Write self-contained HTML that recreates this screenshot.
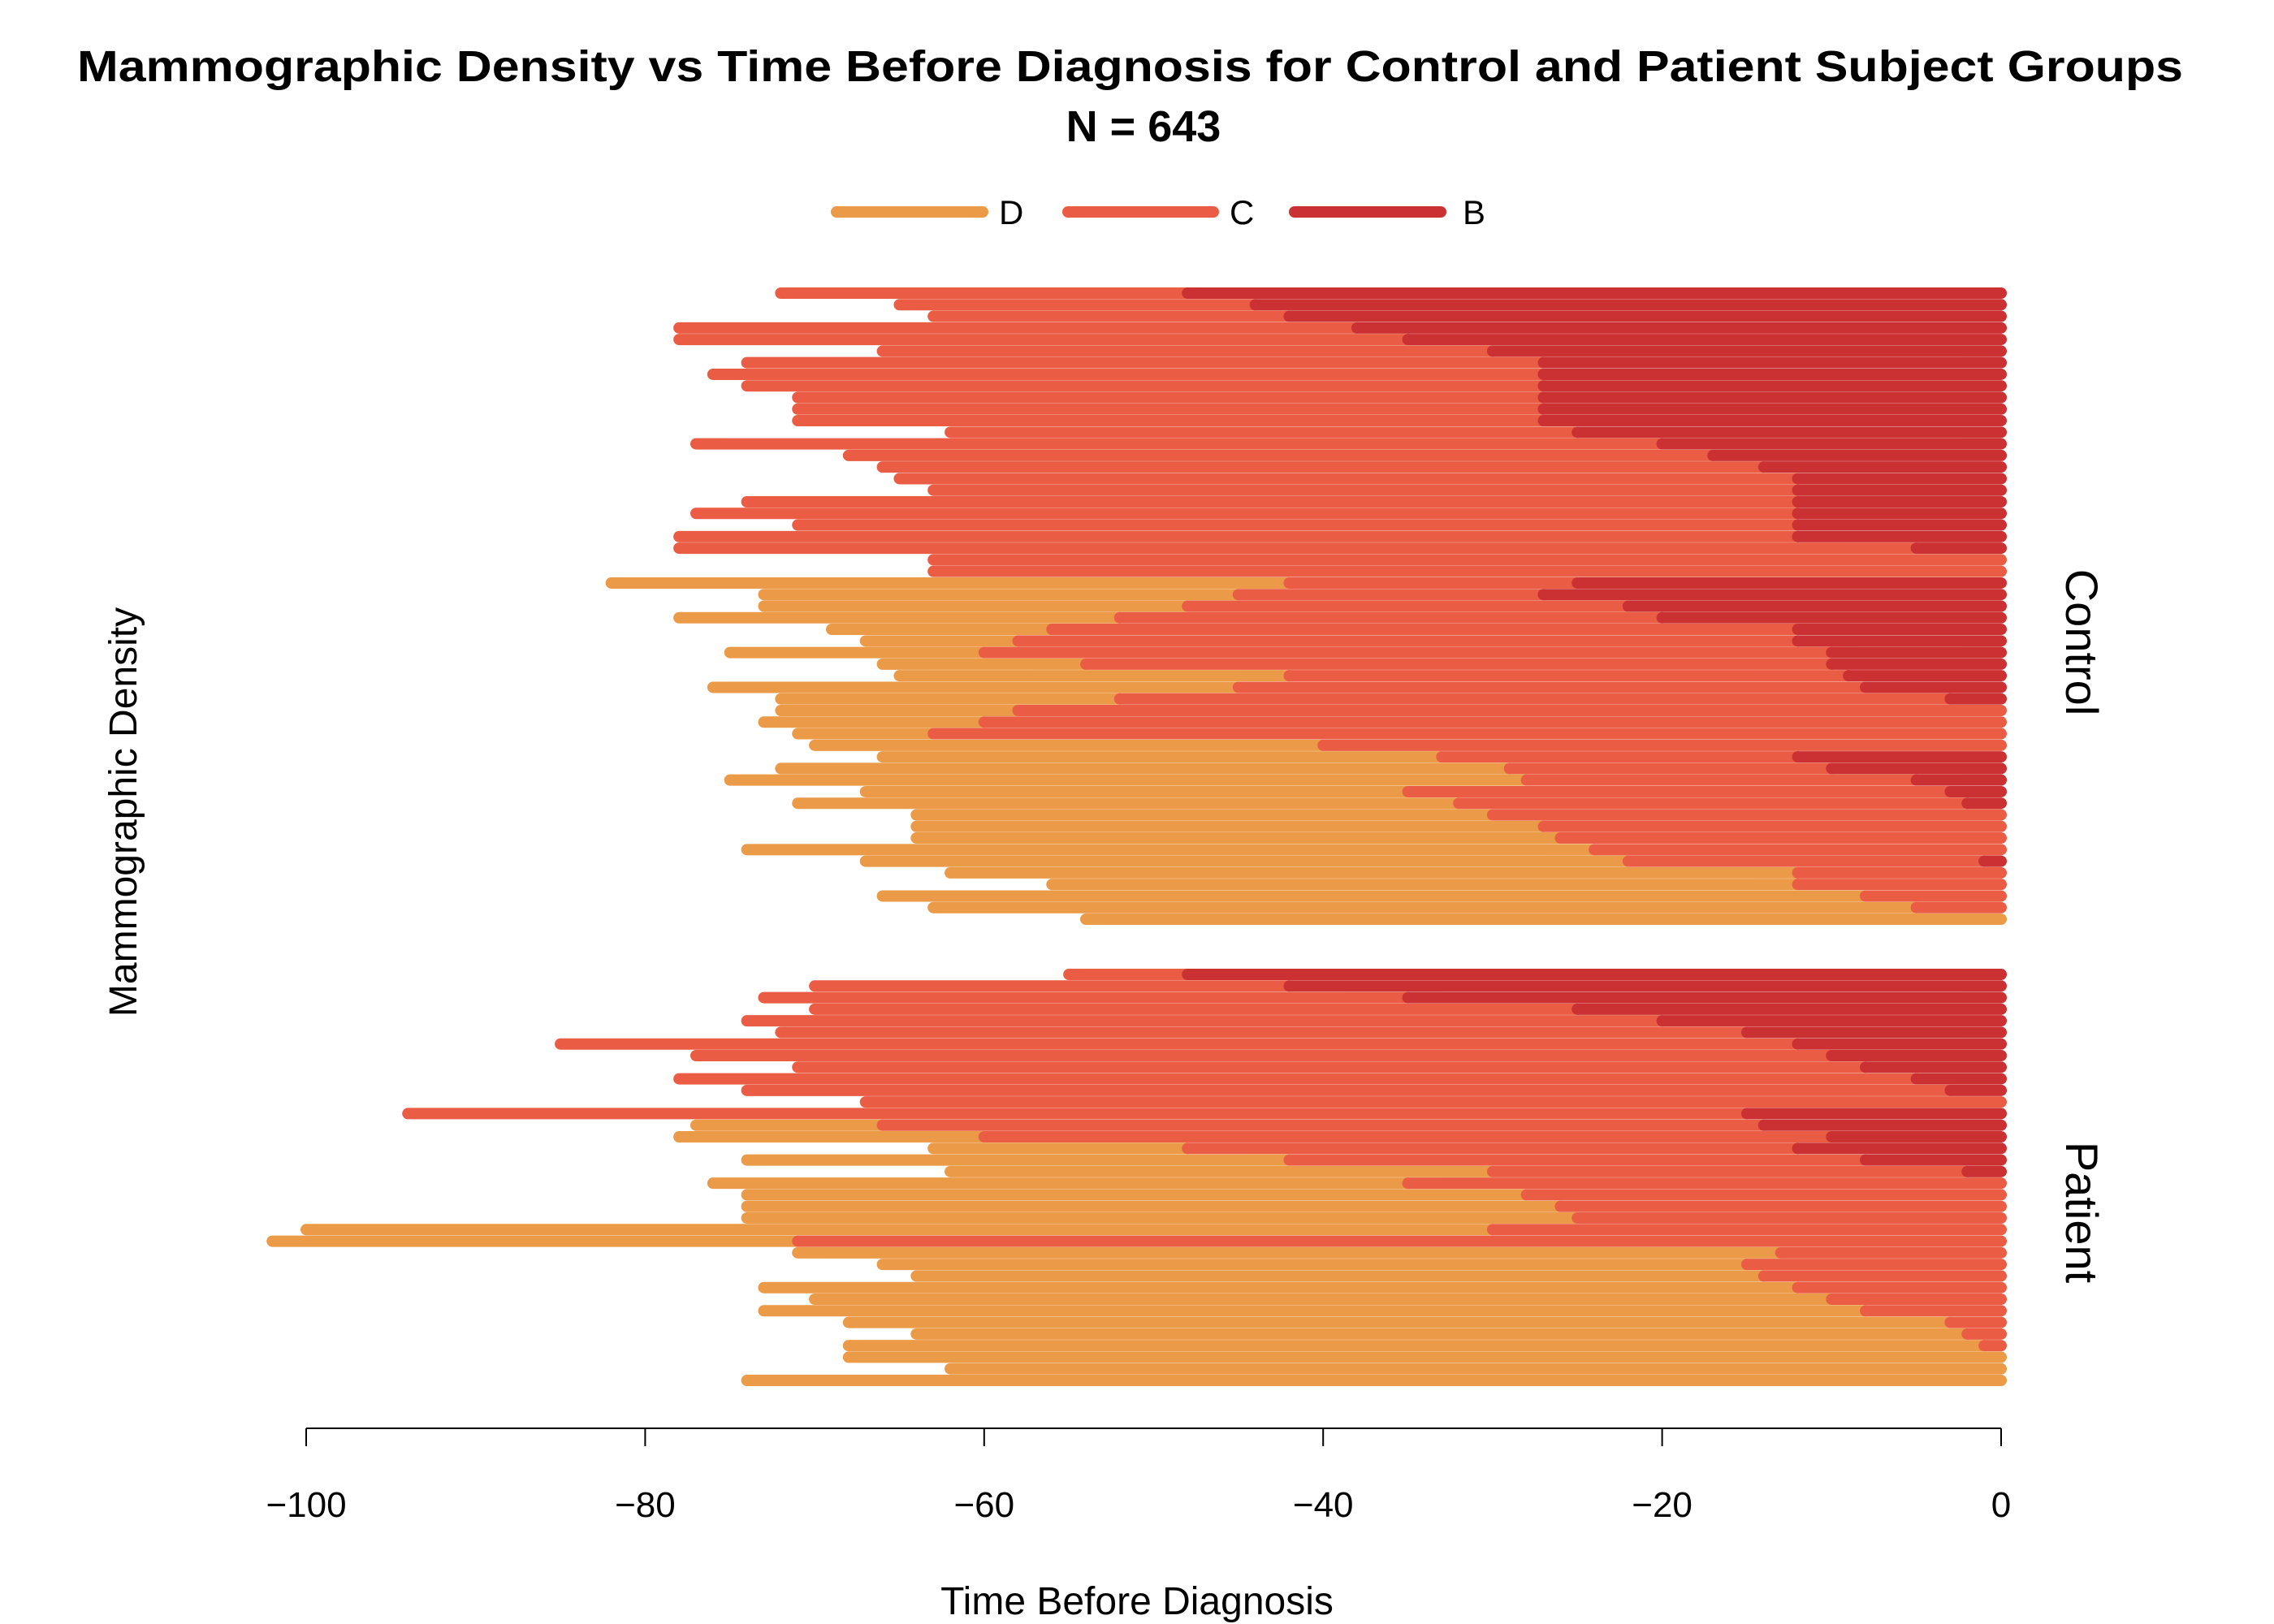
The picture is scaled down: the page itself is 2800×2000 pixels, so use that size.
<!DOCTYPE html>
<html><head><meta charset="utf-8"><style>
html,body{margin:0;padding:0;background:#fff}
svg{display:block;font-family:"Liberation Sans",Arial,sans-serif}
</style></head><body>
<svg id="chart" width="2800" height="2000" viewBox="0 0 2800 2000" xmlns="http://www.w3.org/2000/svg">
<text x="95" y="100" textLength="2593" lengthAdjust="spacingAndGlyphs" font-size="54" font-weight="bold">Mammographic Density vs Time Before Diagnosis for Control and Patient Subject Groups</text>
<text x="1408" y="174" text-anchor="middle" font-size="54" font-weight="bold">N = 643</text>
<g>
<g><line x1="1030" y1="261" x2="1210" y2="261" stroke="#EB9B48" stroke-width="14" stroke-linecap="round"/><text x="1230" y="276" font-size="42">D</text></g>
<g><line x1="1315" y1="261" x2="1494" y2="261" stroke="#EA5D44" stroke-width="14" stroke-linecap="round"/><text x="1514" y="276" font-size="42">C</text></g>
<g><line x1="1594" y1="261" x2="1774" y2="261" stroke="#CB3033" stroke-width="14" stroke-linecap="round"/><text x="1801" y="276" font-size="42">B</text></g>
</g>
<g id="marks"></g>
<g id="axis"></g>
<text x="1400" y="1988" text-anchor="middle" font-size="48">Time Before Diagnosis</text>
<text transform="translate(168,1000) rotate(-90)" text-anchor="middle" font-size="48">Mammographic Density</text>
<text transform="translate(2544,791) rotate(90)" text-anchor="middle" font-size="56">Control</text>
<text transform="translate(2544,1493) rotate(90)" text-anchor="middle" font-size="56">Patient</text>
</svg>
<script>
const controlStart=[-72,-65,-63,-78,-78,-66,-74,-76,-74,-71,-71,-71,-62,-77,-68,-66,-65,-63,-74,-77,-71,-78,-78,-63,-63,
 -82,-73,-73,-78,-69,-67,-75,-66,-65,-76,-72,-72,-73,-71,-70,-66,-72,-75,-67,-71,-64,-64,-64,-74,-67,-62,-56,-66,-63,-54];
const controlDEnd=[-72,-65,-63,-78,-78,-66,-74,-76,-74,-71,-71,-71,-62,-77,-68,-66,-65,-63,-74,-77,-71,-78,-78,-63,-63,
 -42,-45,-48,-52,-56,-58,-60,-54,-42,-45,-52,-58,-60,-63,-40,-33,-29,-28,-35,-32,-30,-27,-26,-24,-22,-12,-12,-8,-5,0];
const controlCEnd=[-48,-44,-42,-38,-35,-30,-27,-27,-27,-27,-27,-27,-25,-20,-17,-14,-12,-12,-12,-12,-12,-12,-5,0,0,
 -25,-27,-22,-20,-12,-12,-10,-10,-9,-8,-3,0,0,0,0,-12,-10,-5,-3,-2,0,0,0,0,-1,0,0,0,0,0];
const patientStart=[-55,-70,-73,-70,-74,-72,-85,-77,-71,-78,-74,-67,-94,-77,-78,-63,-74,-62,-76,-74,-74,-74,-100,-102,-71,-66,-64,-73,-70,-73,-68,-64,-68,-68,-62,-74];
const patientDEnd=[-55,-70,-73,-70,-74,-72,-85,-77,-71,-78,-74,-67,-94,-66,-60,-48,-42,-30,-35,-28,-26,-25,-30,-71,-13,-15,-14,-12,-10,-8,-3,-2,-1,0,0,0];
const patientCEnd=[-48,-42,-35,-25,-20,-15,-12,-10,-8,-5,-3,0,-15,-14,-10,-12,-8,-2,0,0,0,0,0,0,0,0,0,0,0,0,0,0,0,0,0,0];
const xTicks=[-100,-80,-60,-40,-20,0];

const NS="http://www.w3.org/2000/svg";
const X0=2464, PX=20.87;
function xs(v){return X0+v*PX;}
const colD="#EB9B48", colC="#EA5D44", colB="#CB3033";
const marks=document.getElementById('marks');
function seg(x1,x2,y,col,name){
  if(x2<=x1)return;
  const l=document.createElementNS(NS,'line');
  l.setAttribute('x1',xs(x1));l.setAttribute('x2',xs(x2));
  l.setAttribute('y1',y);l.setAttribute('y2',y);
  l.setAttribute('stroke',col);l.setAttribute('stroke-width',14);l.setAttribute('stroke-linecap','round');
  
  
  marks.appendChild(l);
}
function panel(st,de,ce,top,bot,name){
  const n=st.length, step=(bot-top)/(n-1);
  for(let i=0;i<n;i++){
    const y=top+i*step;
    const s=st[i], d=Math.max(s,de[i]), c=Math.max(d,ce[i]);
    seg(s,d,y,colD,name+'-segment-d');
    seg(d,c,y,colC,name+'-segment-c');
    seg(c,0,y,colB,name+'-segment-b');
  }
}
panel(controlStart,controlDEnd,controlCEnd,361,1132,'control');
panel(patientStart,patientDEnd,patientCEnd,1200,1700,'patient');

const ax=document.getElementById('axis');
const al=document.createElementNS(NS,'line');
al.setAttribute('x1',xs(-100));al.setAttribute('x2',xs(0));al.setAttribute('y1',1759);al.setAttribute('y2',1759);
al.setAttribute('stroke','#000');al.setAttribute('stroke-width',2);


ax.appendChild(al);
xTicks.forEach(t=>{
  const tk=document.createElementNS(NS,'line');
  tk.setAttribute('x1',xs(t));tk.setAttribute('x2',xs(t));tk.setAttribute('y1',1759);tk.setAttribute('y2',1781);
  tk.setAttribute('stroke','#000');tk.setAttribute('stroke-width',2);
  
  
  ax.appendChild(tk);
  const tx=document.createElementNS(NS,'text');
  tx.setAttribute('x',xs(t));tx.setAttribute('y',1868);tx.setAttribute('text-anchor','middle');tx.setAttribute('font-size',44);
  tx.textContent=(t<0?'\u2212'+(-t):String(t));
  
  
  ax.appendChild(tx);
});
</script>
</body></html>
